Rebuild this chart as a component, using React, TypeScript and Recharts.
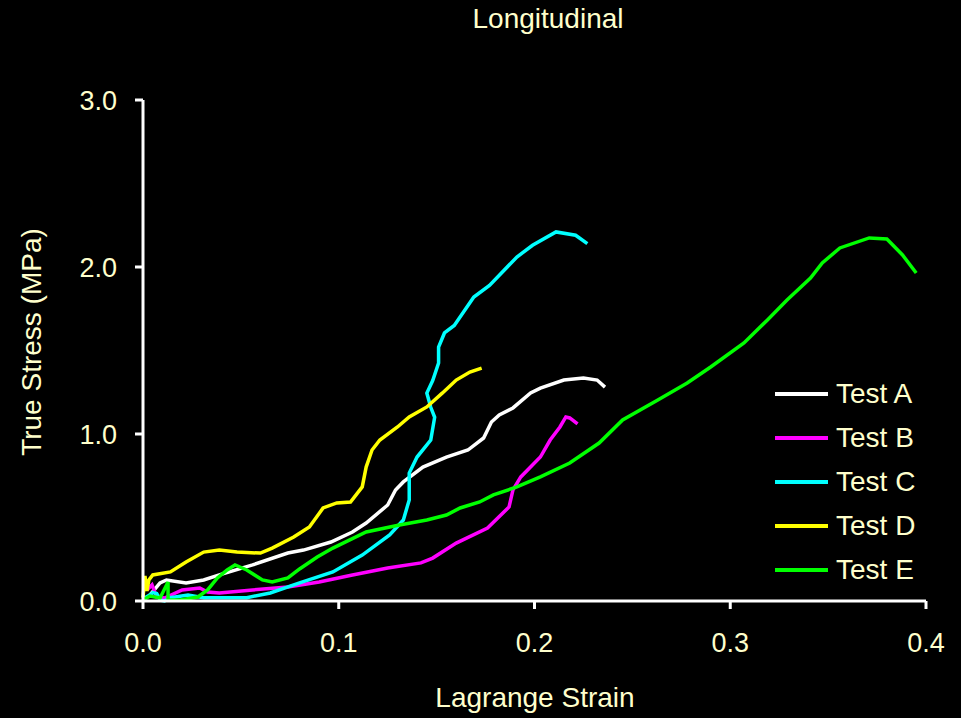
import { LineChart, Line, XAxis, YAxis } from "recharts";

// Longitudinal stress-strain curves
const testAStrain = [0.0036, 0.0087, 0.012, 0.022, 0.031, 0.039, 0.056, 0.074, 0.082, 0.096, 0.107, 0.114, 0.125, 0.129, 0.133, 0.143, 0.155, 0.166, 0.174, 0.178, 0.182, 0.189, 0.198, 0.203, 0.215, 0.225, 0.232, 0.236];
const testAStress = [0.036, 0.108, 0.126, 0.108, 0.126, 0.156, 0.216, 0.287, 0.305, 0.353, 0.413, 0.467, 0.575, 0.665, 0.713, 0.802, 0.862, 0.904, 0.976, 1.072, 1.114, 1.156, 1.246, 1.275, 1.323, 1.335, 1.323, 1.281];

const testBStrain = [0.002, 0.0046, 0.007, 0.011, 0.02, 0.029, 0.033, 0.039, 0.056, 0.074, 0.09, 0.107, 0.125, 0.142, 0.148, 0.16, 0.176, 0.187, 0.189, 0.193, 0.203, 0.208, 0.213, 0.216, 0.218, 0.222];
const testBStress = [0.066, 0.096, 0.024, 0.018, 0.066, 0.078, 0.054, 0.048, 0.066, 0.084, 0.114, 0.156, 0.198, 0.228, 0.257, 0.347, 0.437, 0.563, 0.665, 0.743, 0.862, 0.964, 1.042, 1.102, 1.096, 1.06];

const testCStrain = [0.001, 0.004, 0.005, 0.007, 0.009, 0.011, 0.014, 0.023, 0.031, 0.053, 0.065, 0.08, 0.097, 0.112, 0.126, 0.133, 0.136, 0.136, 0.14, 0.147, 0.149, 0.147, 0.145, 0.148, 0.151, 0.151, 0.154, 0.159, 0.169, 0.177, 0.191, 0.199, 0.211, 0.221, 0.227];
const testCStress = [0.02, 0.04, 0.05, 0.045, 0.005, 0.0, 0.02, 0.036, 0.02, 0.02, 0.048, 0.108, 0.174, 0.275, 0.395, 0.485, 0.605, 0.766, 0.862, 0.964, 1.1, 1.16, 1.245, 1.32, 1.425, 1.52, 1.605, 1.65, 1.82, 1.89, 2.06, 2.13, 2.21, 2.19, 2.14];

const testDStrain = [0.0, 0.001, 0.002, 0.003, 0.005, 0.014, 0.022, 0.031, 0.039, 0.048, 0.06, 0.066, 0.077, 0.085, 0.092, 0.099, 0.106, 0.112, 0.114, 0.117, 0.121, 0.13, 0.136, 0.145, 0.153, 0.16, 0.167, 0.173];
const testDStress = [0.02, 0.15, 0.06, 0.126, 0.156, 0.174, 0.234, 0.293, 0.305, 0.293, 0.287, 0.317, 0.383, 0.443, 0.557, 0.587, 0.593, 0.683, 0.802, 0.904, 0.964, 1.042, 1.102, 1.162, 1.246, 1.323, 1.371, 1.395];

const testEStrain = [0.0, 0.0036, 0.0087, 0.0128, 0.0128, 0.019, 0.028, 0.033, 0.038, 0.043, 0.047, 0.053, 0.061, 0.066, 0.074, 0.08, 0.089, 0.097, 0.114, 0.131, 0.145, 0.155, 0.162, 0.172, 0.179, 0.191, 0.203, 0.218, 0.233, 0.245, 0.263, 0.278, 0.29, 0.307, 0.319, 0.329, 0.341, 0.347, 0.356, 0.371, 0.38, 0.388, 0.395];
const testEStress = [0.006, 0.03, 0.018, 0.114, 0.006, 0.006, 0.024, 0.066, 0.138, 0.186, 0.216, 0.186, 0.126, 0.114, 0.138, 0.192, 0.263, 0.317, 0.413, 0.455, 0.485, 0.515, 0.557, 0.593, 0.635, 0.683, 0.743, 0.826, 0.946, 1.084, 1.204, 1.305, 1.401, 1.545, 1.683, 1.802, 1.934, 2.024, 2.114, 2.174, 2.168, 2.072, 1.964];

const xTicks = [0, 0.1, 0.2, 0.3, 0.4];
const yTicks = [0, 1, 2, 3];

const TEXT = "#FFFFCC";
const FONT = "'Liberation Sans', Arial, sans-serif";

const series = [
  { name: "Test A", color: "#FFFFFF", strain: testAStrain, stress: testAStress },
  { name: "Test B", color: "#FF00FF", strain: testBStrain, stress: testBStress },
  { name: "Test C", color: "#00FFFF", strain: testCStrain, stress: testCStress },
  { name: "Test D", color: "#FFFF00", strain: testDStrain, stress: testDStress },
  { name: "Test E", color: "#00FF00", strain: testEStrain, stress: testEStress },
];

function toRows(strain: number[], stress: number[]) {
  return strain.map((x, i) => ({ x, y: stress[i] }));
}

// legend sits inside the plot, bottom right
function LegendBox() {
  return (
    <div style={{ position: "absolute", left: 775, top: 372 }}>
      {series.map((s) => (
        <div key={s.name} style={{ display: "flex", alignItems: "center", height: 44 }}>
          <span style={{ display: "inline-block", width: 53, height: 4, background: s.color, marginRight: 8 }} />
          <span style={{ color: TEXT, fontSize: 28, lineHeight: 1 }}>{s.name}</span>
        </div>
      ))}
    </div>
  );
}

export default function App() {
  return (
    <div style={{ position: "absolute", left: 0, top: 0, width: 961, height: 718, background: "#000", fontFamily: FONT }}>
      <LineChart width={961} height={718} margin={{ top: 100, right: 35, bottom: 57, left: 83 }}>
        <XAxis
          type="number"
          dataKey="x"
          domain={[0, 0.4]}
          ticks={xTicks}
          height={60}
          tickFormatter={(v: number) => v.toFixed(1)}
          axisLine={{ stroke: "#fff", strokeWidth: 3 }}
          tickLine={{ stroke: "#fff", strokeWidth: 3 }}
          tickSize={8}
          tickMargin={24}
          tick={{ fill: TEXT, fontSize: 27, fontFamily: FONT }}
        />
        <YAxis
          type="number"
          dataKey="y"
          domain={[0, 3]}
          ticks={yTicks}
          width={60}
          tickFormatter={(v: number) => v.toFixed(1)}
          axisLine={{ stroke: "#fff", strokeWidth: 3 }}
          tickLine={{ stroke: "#fff", strokeWidth: 3 }}
          tickSize={8}
          tickMargin={18}
          tick={{ fill: TEXT, fontSize: 27, fontFamily: FONT }}
        />
        {series.map((s) => (
          <Line
            key={s.name}
            name={s.name}
            data={toRows(s.strain, s.stress)}
            dataKey="y"
            type="linear"
            stroke={s.color}
            strokeWidth={3.5}
            dot={false}
            isAnimationActive={false}
          />
        ))}
      </LineChart>
      <LegendBox />
      <div style={{ position: "absolute", left: 0, width: 1096, top: 5, textAlign: "center", color: TEXT, fontSize: 28, lineHeight: 1 }}>
        Longitudinal
      </div>
      <div style={{ position: "absolute", left: 0, width: 1070, top: 684, textAlign: "center", color: TEXT, fontSize: 28, lineHeight: 1 }}>
        Lagrange Strain
      </div>
      <div
        style={{
          position: "absolute",
          left: 32,
          top: 342,
          transform: "translate(-50%, -50%) rotate(-90deg)",
          whiteSpace: "nowrap",
          color: TEXT,
          fontSize: 28,
          lineHeight: 1,
        }}
      >
        True Stress (MPa)
      </div>
    </div>
  );
}
